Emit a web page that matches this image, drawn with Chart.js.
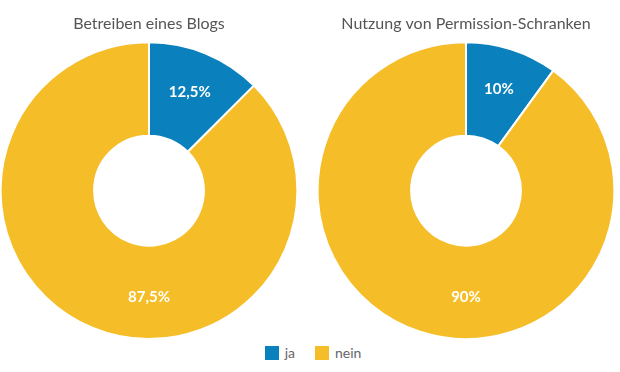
<!DOCTYPE html>
<html>
<head>
<meta charset="utf-8">
<script src="https://cdn.jsdelivr.net/npm/chart.js@4/dist/chart.umd.min.js"></script>
<style>
  body { margin: 0; background: #fff; font-family: Lato, "Open Sans", sans-serif; }
  #wrap { position: relative; width: 620px; height: 372px; overflow: hidden; }
  .box { position: absolute; top: 0; width: 302px; height: 340px; }
  #legend { position: absolute; top: 344px; left: 3px; width: 620px; text-align: center; font-size: 14px; color: #666; }
  #legend span.item { display: inline-block; margin: 0 10px; }
  #legend span.sw { display: inline-block; width: 14px; height: 14px; vertical-align: -2px; margin-right: 6px; }
</style>
</head>
<body>
<div id="wrap">
  <div class="box" style="left:-2px"><canvas id="c1"></canvas></div>
  <div class="box" style="left:315px"><canvas id="c2"></canvas></div>
  <div id="legend"></div>
</div>
<script>
const kategorien = ["ja", "nein"];
const farben = ["#0a80bc", "#f5bd27"];
const titel = ["Betreiben eines Blogs", "Nutzung von Permission-Schranken"];
const blogWerte = [12.5, 87.5];
const schrankenWerte = [10, 90];

// Prozent im Stil "12,5%"
function fmt(v) {
    return String(v).replace(".", ",") + "%";
}

const labelPlugin = {
    id: "sliceLabels",
    afterDatasetsDraw(chart) {
        const ctx = chart.ctx;
        const meta = chart.getDatasetMeta(0);
        const data = chart.data.datasets[0].data;
        const total = data.reduce((a, b) => a + b, 0);
        ctx.save();
        ctx.font = "bold 15px Lato, 'Open Sans', sans-serif";
        ctx.fillStyle = "#fff";
        ctx.textAlign = "center";
        ctx.textBaseline = "middle";
        meta.data.forEach((arc, i) => {
            const p = arc.getProps(["x", "y", "startAngle", "endAngle", "innerRadius", "outerRadius"], true);
            let mid = (p.startAngle + p.endAngle) / 2;
            // grosses Segment: Beschriftung unten
            if (data[i] / total > 0.5) mid = Math.PI / 2;
            const r = (p.innerRadius + p.outerRadius) / 2 + 5;
            ctx.fillText(fmt(data[i]), p.x + Math.cos(mid) * r, p.y + Math.sin(mid) * r);
        });
        ctx.restore();
    }
};

function donut(id, werte, text) {
    new Chart(document.getElementById(id), {
        type: "doughnut",
        data: {
            labels: kategorien,
            datasets: [{
                data: werte,
                backgroundColor: farben,
                borderColor: "#fff",
                borderWidth: 2,
                hoverOffset: 0
            }]
        },
        options: {
            responsive: true,
            maintainAspectRatio: false,
            animation: false,
            cutout: "37%",
            layout: { padding: 0 },
            plugins: {
                legend: { display: false },
                tooltip: { enabled: false },
                title: {
                    display: true,
                    text: text,
                    color: "#555",
                    font: { family: "Lato, 'Open Sans', sans-serif", size: 16, weight: "normal" },
                    padding: { top: 14, bottom: 8 }
                }
            }
        },
        plugins: [labelPlugin]
    });
}

donut("c1", blogWerte, titel[0]);
donut("c2", schrankenWerte, titel[1]);

const legend = document.getElementById("legend");
kategorien.forEach((k, i) => {
    const item = document.createElement("span");
    item.className = "item";
    item.innerHTML = `<span class="sw" style="background:${farben[i]}"></span>${k}`;
    legend.appendChild(item);
});
</script>
</body>
</html>
